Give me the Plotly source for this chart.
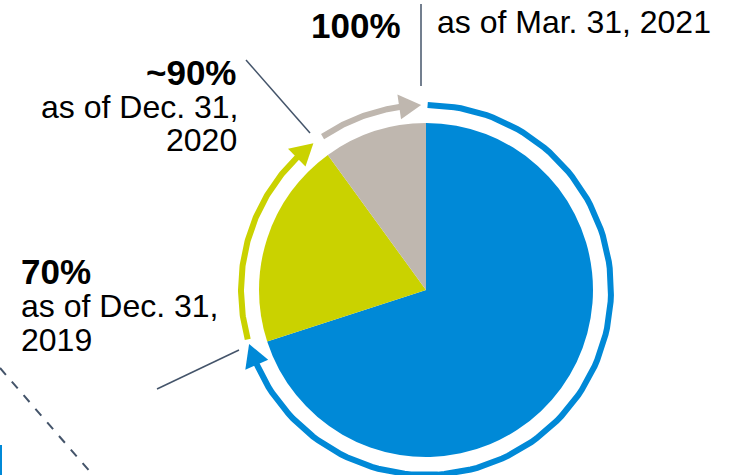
import numpy as np
import plotly.graph_objects as go

W, H = 731, 475

# ---- data ----
milestones = ["Dec. 31, 2019", "Dec. 31, 2020", "Mar. 31, 2021"]
shares = [70, 20, 10]                      # pie slices (sum 100)
pct_labels = ["70%", "~90%", "100%"]
colors = ["#0089D7", "#CAD200", "#BFB7AF"]
line_col = "#44546A"

# ---- geometry (pixels, y downward) ----
CX, CY, R_PIE = 426, 290, 167
R_RING = 185
# arc segments: (start angle, arrow-tip angle) in degrees clockwise from 12 o'clock
arc_start = [0.5, 254.5, 326.0]
arc_tip = [253.0, 322.5, 358.5]
HEAD_LEN, HEAD_HW, SHAFT_W = 22, 12.5, 6


def pt(theta_deg, r):
    t = np.radians(theta_deg)
    return CX + r * np.sin(t), CY - r * np.cos(t)


fig = go.Figure()
fig.add_trace(go.Pie(
    values=shares, labels=milestones, sort=False, direction="clockwise", rotation=0,
    marker=dict(colors=colors, line=dict(width=0)), textinfo="none", hoverinfo="skip",
    showlegend=False,
    domain=dict(x=[(CX - R_PIE) / W, (CX + R_PIE) / W],
                y=[1 - (CY + R_PIE) / H, 1 - (CY - R_PIE) / H]),
))

for s, t, c in zip(arc_start, arc_tip, colors):
    head_deg = np.degrees(HEAD_LEN / R_RING)
    base = t - head_deg
    th = np.linspace(s, base + 0.5, 120)
    xs, ys = pt(th, R_RING)
    fig.add_trace(go.Scatter(x=xs, y=ys, mode="lines", line=dict(color=c, width=SHAFT_W),
                             hoverinfo="skip", showlegend=False))
    tx, ty = pt(t, R_RING)
    b1x, b1y = pt(base, R_RING + HEAD_HW)
    b2x, b2y = pt(base, R_RING - HEAD_HW)
    fig.add_trace(go.Scatter(x=[tx, b1x, b2x, tx], y=[ty, b1y, b2y, ty], mode="lines",
                             fill="toself", fillcolor=c, line=dict(color=c, width=0),
                             hoverinfo="skip", showlegend=False))

shapes = [
    dict(type="line", x0=246, y0=60, x1=310, y1=133, line=dict(color=line_col, width=1.5)),
    dict(type="line", x0=157, y0=389, x1=239, y1=350, line=dict(color=line_col, width=1.5)),
    dict(type="line", x0=421, y0=4, x1=421, y1=86, line=dict(color=line_col, width=1.5)),
    dict(type="line", x0=0, y0=368, x1=92, y1=474, line=dict(color=line_col, width=2, dash="dash")),
    dict(type="rect", x0=-4, y0=445, x1=2, y1=480, fillcolor="#0089D7", line=dict(width=0)),
]
for sh in shapes:
    sh.update(xref="x", yref="y", layer="above")

FONT = "Liberation Sans, Arial, sans-serif"
BOLD, REG = 35, 32


def ann(x, y, text, anchor, size, bold=False):
    return dict(x=x, y=y, xref="x", yref="y", text=f"<b>{text}</b>" if bold else text,
                showarrow=False, xanchor=anchor, yanchor="middle",
                font=dict(family=FONT, size=size, color="#000000"))


annotations = [
    ann(403, 25, pct_labels[2], "right", BOLD, True),
    ann(435, 22, "as of " + milestones[2], "left", REG),
    ann(239, 72, pct_labels[1], "right", BOLD, True),
    ann(240, 107, "as of " + milestones[1].rsplit(" ", 1)[0], "right", REG),
    ann(239, 140, milestones[1].rsplit(" ", 1)[1], "right", REG),
    ann(19, 271, pct_labels[0], "left", BOLD, True),
    ann(19, 306, "as of " + milestones[0].rsplit(" ", 1)[0], "left", REG),
    ann(19, 340, milestones[0].rsplit(" ", 1)[1], "left", REG),
]

fig.update_layout(
    width=W, height=H, margin=dict(l=0, r=0, t=0, b=0),
    paper_bgcolor="white", plot_bgcolor="white",
    xaxis=dict(range=[0, W], visible=False, fixedrange=True),
    yaxis=dict(range=[H, 0], visible=False, fixedrange=True),
    shapes=shapes, annotations=annotations, showlegend=False,
)
fig.write_html("out.html")
